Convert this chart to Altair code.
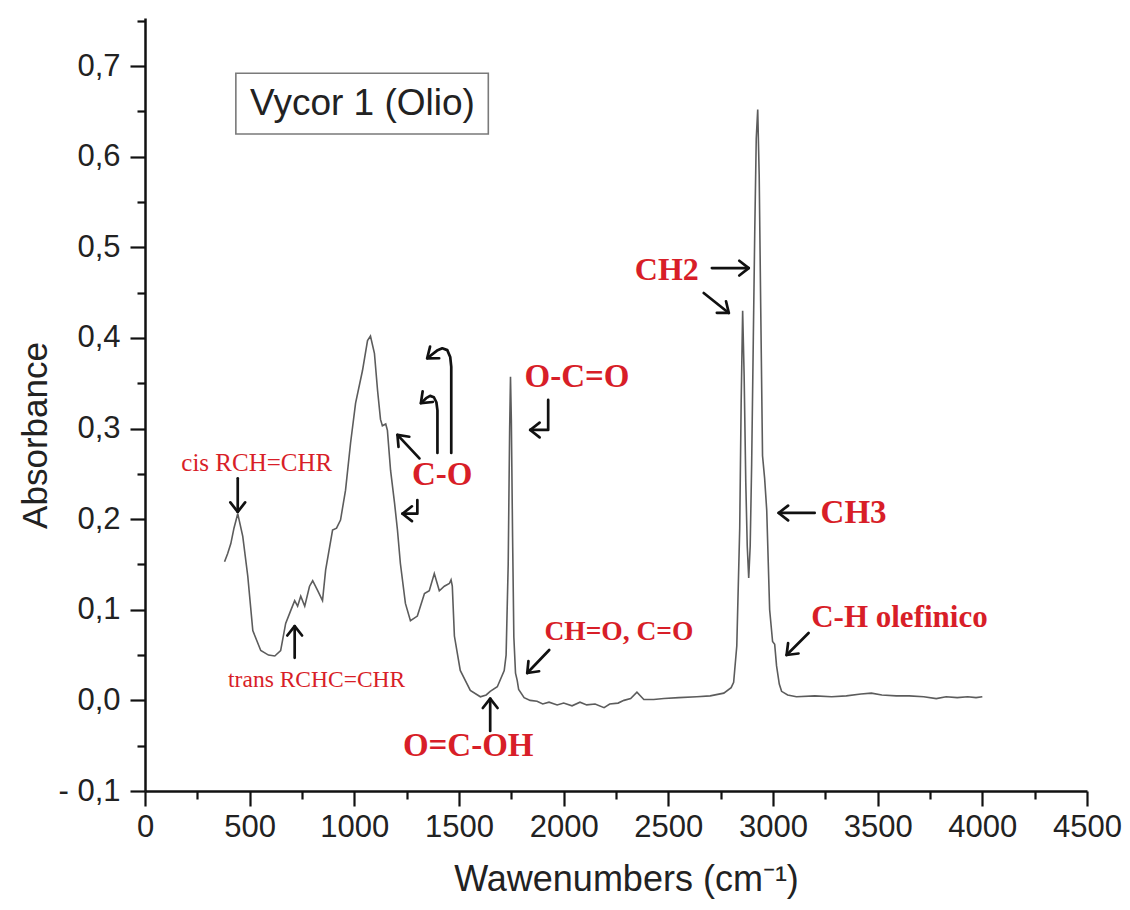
import math
import altair as alt
import pandas as pd

# ---------------- data ----------------
wavenumber = [380, 395, 410, 425, 443, 467, 491, 515, 553, 590, 620, 648, 672, 696, 715, 729,
              744, 763, 786, 801, 825, 848, 863, 896, 915, 934, 958, 982, 1006, 1039, 1063, 1077,
              1096, 1111, 1125, 1134, 1150, 1158, 1173, 1192, 1206, 1220, 1244, 1268, 1301, 1335,
              1358, 1382, 1406, 1430, 1454, 1462, 1468, 1478, 1506, 1554, 1602, 1630, 1649, 1683,
              1716, 1725, 1735, 1742, 1746, 1750, 1756, 1762, 1770, 1778, 1785, 1811, 1840, 1873,
              1900, 1930, 1969, 2000, 2040, 2078, 2110, 2150, 2193, 2220, 2260, 2288, 2320, 2350,
              2383, 2430, 2479, 2550, 2636, 2700, 2765, 2800, 2812, 2827, 2841, 2848, 2855, 2862,
              2870, 2877, 2884, 2891, 2898, 2906, 2913, 2920, 2927, 2934, 2941, 2950, 2960, 2970,
              2984, 2998, 3008, 3017, 3030, 3041, 3070, 3112, 3200, 3280, 3350, 3420, 3470, 3520,
              3589, 3650, 3720, 3780, 3827, 3880, 3930, 3970, 4000]
absorbance = [0.153, 0.162, 0.173, 0.190, 0.206, 0.181, 0.137, 0.077, 0.055, 0.050, 0.049, 0.055,
              0.085, 0.099, 0.110, 0.104, 0.115, 0.104, 0.126, 0.132, 0.121, 0.110, 0.144, 0.188,
              0.190, 0.199, 0.232, 0.284, 0.328, 0.364, 0.397, 0.402, 0.383, 0.342, 0.310, 0.303,
              0.305, 0.298, 0.254, 0.218, 0.188, 0.151, 0.107, 0.088, 0.093, 0.118, 0.121, 0.140,
              0.121, 0.126, 0.129, 0.133, 0.126, 0.071, 0.033, 0.011, 0.004, 0.006, 0.010, 0.015,
              0.033, 0.050, 0.150, 0.300, 0.357, 0.310, 0.180, 0.070, 0.030, 0.022, 0.012, 0.003,
              0.000, -0.001, -0.004, -0.002, -0.005, -0.003, -0.006, -0.002, -0.005, -0.004, -0.008,
              -0.004, -0.003, 0.000, 0.002, 0.009, 0.001, 0.001, 0.002, 0.003, 0.004, 0.005, 0.008,
              0.014, 0.020, 0.060, 0.190, 0.330, 0.430, 0.360, 0.240, 0.170, 0.135, 0.170, 0.260,
              0.400, 0.520, 0.620, 0.652, 0.580, 0.440, 0.270, 0.245, 0.210, 0.100, 0.065, 0.062,
              0.038, 0.018, 0.010, 0.006, 0.004, 0.005, 0.004, 0.005, 0.007, 0.008, 0.006, 0.005,
              0.005, 0.004, 0.002, 0.004, 0.003, 0.004, 0.003, 0.004]

x_ticks = [0, 500, 1000, 1500, 2000, 2500, 3000, 3500, 4000, 4500]
x_minor = [250, 750, 1250, 1750, 2250, 2750, 3250, 3750, 4250]
y_ticks = [-0.1, 0.0, 0.1, 0.2, 0.3, 0.4, 0.5, 0.6, 0.7]
y_minor = [-0.05, 0.05, 0.15, 0.25, 0.35, 0.45, 0.55, 0.65, 0.75]

# annotation labels (text, wavenumber, absorbance, font size, bold)
label_text = ["cis RCH=CHR", "trans RCHC=CHR", "C-O", "O-C=O", "CH=O, C=O", "O=C-OH",
              "CH2", "CH3", "C-H olefinico"]
label_x = [534, 820, 1420, 2064, 2264, 1544, 2493, 3385, 3604]
label_y = [0.262, 0.0225, 0.249, 0.357, 0.0755, -0.0503, 0.475, 0.2068, 0.0909]
label_size = [25, 23.5, 33, 33, 27.5, 33, 32, 33, 31]
label_bold = [False, False, True, True, True, True, True, True, True]

# arrow paths (wavenumber, absorbance), last point is the tip
arrow_paths = [
    [(443, 0.245), (443, 0.208)],
    [(715, 0.047), (715, 0.082)],
    [(1311, 0.267), (1206, 0.293)],
    [(1301, 0.221), (1301, 0.206), (1230, 0.206)],
    [(1397, 0.273), (1397, 0.3200), (1392, 0.3290), (1380, 0.3345), (1362, 0.3360), (1343, 0.3335), (1318, 0.3280)],
    [(1463, 0.273), (1463, 0.368), (1458, 0.379), (1444, 0.3865), (1420, 0.3885), (1395, 0.3860), (1348, 0.3775)],
    [(1926, 0.3315), (1926, 0.2984), (1840, 0.2984)],
    [(1931, 0.0556), (1826, 0.0302)],
    [(1649, -0.0338), (1649, 0.002)],
    [(2708, 0.477), (2884, 0.477)],
    [(2669, 0.4495), (2789, 0.4275)],
    [(3199, 0.2068), (3027, 0.2068)],
    [(3170, 0.0743), (3065, 0.0501)],
]

box_title = "Vycor 1 (Olio)"
box_x, box_x2, box_y, box_y2 = 434, 1640, 0.625, 0.692
box_tx, box_ty = 1039, 0.658

# ---------------- layout ----------------
W, H = 942, 773
X_DOMAIN = [0, 4500]
Y_DOMAIN = [-0.1, 0.753]
SX = W / (X_DOMAIN[1] - X_DOMAIN[0])
SY = H / (Y_DOMAIN[1] - Y_DOMAIN[0])

xs = alt.Scale(domain=X_DOMAIN, nice=False, zero=False)
ys = alt.Scale(domain=Y_DOMAIN, nice=False, zero=False)

RED = "#d81e28"

spec_df = pd.DataFrame({"wn": wavenumber, "ab": absorbance})

y_label_expr = ("datum.value < -0.001 ? '- ' + replace(format(abs(datum.value), '.1f'), '.', ',') : "
                "replace(format(abs(datum.value), '.1f'), '.', ',')")

spectrum = alt.Chart(spec_df).mark_line(color="#5c5c5c", strokeWidth=1.6).encode(
    x=alt.X("wn:Q", scale=xs, axis=alt.Axis(
        values=x_ticks, format="d", orient="bottom", tickSize=15, labelPadding=6,
        labelFlush=False, labelOverlap=False,
        title="Wawenumbers (cm\u207b\u00b9)", titleX=481, titleY=88, titleFontSize=36,
        titleBaseline="middle", titleAlign="center")),
    y=alt.Y("ab:Q", scale=ys, axis=alt.Axis(
        values=y_ticks, labelExpr=y_label_expr, orient="left", tickSize=15, labelPadding=10,
        labelFlush=False, labelOverlap=False,
        title="Absorbance", titleX=-110, titleY=417, titleAngle=270,
        titleAlign="center", titleBaseline="middle")),
)

minor_df = pd.DataFrame({"wn": [X_DOMAIN[0], X_DOMAIN[1]], "ab": [Y_DOMAIN[0], Y_DOMAIN[1]]})
minor = alt.Chart(minor_df).mark_point(opacity=0).encode(
    x=alt.X("wn:Q", scale=xs, axis=alt.Axis(values=x_minor, labels=False, title="",
                                             orient="bottom", tickSize=8, domain=False)),
    y=alt.Y("ab:Q", scale=ys, axis=alt.Axis(values=y_minor, labels=False, title="",
                                             orient="left", tickSize=8, domain=False)),
)

# box
box_df = pd.DataFrame({"x": [box_x], "x2": [box_x2], "y": [box_y], "y2": [box_y2],
                       "tx": [box_tx], "ty": [box_ty], "t": [box_title]})
box = alt.Chart(box_df).mark_rect(fill="white", stroke="#7a7a7a", strokeWidth=1.6).encode(
    x=alt.X("x:Q", scale=xs, axis=None), x2="x2:Q",
    y=alt.Y("y:Q", scale=ys, axis=None), y2="y2:Q")
box_text = alt.Chart(box_df).mark_text(font="Liberation Sans", fontSize=37, color="#222222",
                                       align="center", baseline="middle").encode(
    x=alt.X("tx:Q", scale=xs, axis=None), y=alt.Y("ty:Q", scale=ys, axis=None), text="t:N")

# arrows
rows = []
def add_arrow(gid, pts, L=12.0, ang=38.0):
    order = 0
    for (x, y) in pts:
        rows.append({"g": f"s{gid}", "o": order, "x": x, "y": y}); order += 1
    (x0, y0), (x1, y1) = pts[-2], pts[-1]
    dx = (x1 - x0) * SX
    dy = -(y1 - y0) * SY
    n = math.hypot(dx, dy)
    ux, uy = -dx / n, -dy / n
    a = math.radians(ang)
    heads = []
    for s in (1, -1):
        bx = ux * math.cos(s * a) - uy * math.sin(s * a)
        by = ux * math.sin(s * a) + uy * math.cos(s * a)
        heads.append((x1 + L * bx / SX, y1 - L * by / SY))
    for k, (hx, hy) in enumerate([heads[0], (x1, y1), heads[1]]):
        rows.append({"g": f"h{gid}", "o": k, "x": hx, "y": hy})

for i, p in enumerate(arrow_paths):
    add_arrow(i, p)
arrow_df = pd.DataFrame(rows)
arrows = alt.Chart(arrow_df).mark_line(color="#111111", strokeWidth=2.7,
                                       strokeCap="round", strokeJoin="round").encode(
    x=alt.X("x:Q", scale=xs, axis=None), y=alt.Y("y:Q", scale=ys, axis=None),
    detail="g:N", order="o:Q")

lab_df = pd.DataFrame({"t": label_text, "x": label_x, "y": label_y, "s": label_size,
                       "b": label_bold})
def label_layer(bold):
    return alt.Chart(lab_df[lab_df["b"] == bold]).mark_text(
        font="Liberation Serif", fontWeight="bold" if bold else "normal", color=RED,
        align="center", baseline="middle").encode(
        x=alt.X("x:Q", scale=xs, axis=None), y=alt.Y("y:Q", scale=ys, axis=None),
        text="t:N", size=alt.Size("s:Q", scale=None, legend=None))

chart = alt.layer(spectrum, minor, box, box_text, arrows, label_layer(True), label_layer(False)).resolve_axis(
    x="independent", y="independent"
).properties(
    width=W, height=H,
    background="white",
    autosize=alt.AutoSizeParams(type="none"),
    padding={"left": 137, "top": 10, "right": 35, "bottom": 110},
).configure_view(stroke="transparent").configure_axis(
    grid=False, domainColor="#111111", domainWidth=2.5, tickColor="#111111", tickWidth=2.2,
    labelFont="Liberation Sans", labelFontSize=31, labelColor="#222222",
    titleFont="Liberation Sans", titleFontSize=35, titleFontWeight="normal", titleColor="#222222",
)

chart.save("out.html", embed_options={"renderer": "svg", "actions": False})
